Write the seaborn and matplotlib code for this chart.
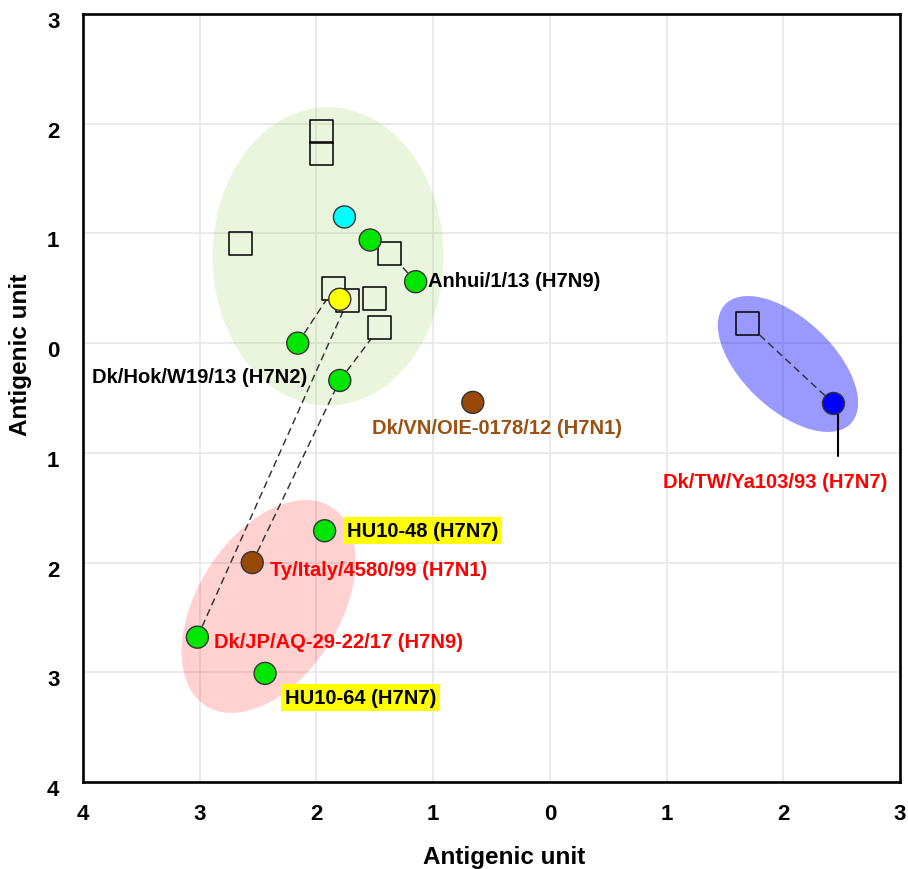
import numpy as np
import pandas as pd
import matplotlib
matplotlib.use("Agg")
import matplotlib.pyplot as plt
import seaborn as sns
from matplotlib.patches import Ellipse
from matplotlib.transforms import ScaledTranslation

# ---- antigens (filled circles) ----
antigen_names = ["ag01", "ag02", "Anhui/1/13", "ag04", "ag05", "Dk/Hok/W19/13",
                 "Dk/VN/OIE-0178/12", "HU10-48", "Ty/Italy/4580/99",
                 "Dk/JP/AQ-29-22/17", "HU10-64", "Dk/TW/Ya103/93"]
antigen_x = [-1.76, -1.54, -1.15, -1.80, -2.16, -1.80, -0.66, -1.93, -2.55, -3.02, -2.44, 2.43]
antigen_y = [1.15, 0.94, 0.56, 0.40, 0.00, -0.34, -0.54, -1.71, -2.00, -2.68, -3.01, -0.55]
antigen_colors = ["#00ffff", "#00e600", "#00e600", "#ffff00", "#00e600", "#00e600",
                  "#984807", "#00e600", "#984807", "#00e600", "#00e600", "#0000ff"]

# ---- antisera (open squares) ----
serum_x = [-1.96, -1.96, -2.65, -1.37, -1.85, -1.73, -1.50, -1.46, 1.69]
serum_y = [1.93, 1.73, 0.91, 0.82, 0.50, 0.39, 0.41, 0.14, 0.18]

# dashed connections: (antigen index, serum index) and (antigen index, antigen index)
antigen_serum_links = [(2, 3), (4, 4), (5, 7), (9, 5), (11, 8)]
antigen_antigen_links = [(8, 5)]

# ---- cluster ellipses ----
ell_cx = [-1.90, -2.41, 2.04]
ell_cy = [0.79, -2.40, -0.19]
ell_w = [1.98, 2.11, 1.53]
ell_h = [2.72, 1.24, 0.80]
ell_angle = [0, 61, -46.5]
ell_color = ["#92d050", "#ff0000", "#0000ff"]
ell_alpha = [0.2, 0.18, 0.4]

# ---- strain labels ----
label_text = ["Anhui/1/13 (H7N9)", "Dk/Hok/W19/13 (H7N2)", "Dk/VN/OIE-0178/12 (H7N1)",
              "Dk/TW/Ya103/93 (H7N7)", "HU10-48 (H7N7)", "Ty/Italy/4580/99 (H7N1)",
              "Dk/JP/AQ-29-22/17 (H7N9)", "HU10-64 (H7N7)"]
label_x = [-1.04, -2.08, -0.45, 1.93, -1.74, -2.40, -2.875, -2.27]
label_y = [0.57, -0.30, -0.77, -1.26, -1.71, -2.065, -2.72, -3.23]
label_ha = ["left", "right", "center", "center", "left", "left", "left", "left"]
label_color = ["black", "black", "#9c5012", "#ff0000", "black", "#ff0000", "#ff0000", "black"]
label_highlight = [False, False, False, False, True, False, False, True]

# ---- axes ----
x_ticks = [-4, -3, -2, -1, 0, 1, 2, 3]
x_tick_labels = ["4", "3", "2", "1", "0", "1", "2", "3"]
y_ticks = [3, 2, 1, 0, -1, -2, -3, -4]
y_tick_labels = ["3", "2", "1", "0", "1", "2", "3", "4"]

sns.set_theme(style="white")
plt.rcParams["font.family"] = ["Liberation Sans", "DejaVu Sans"]
plt.rcParams["text.color"] = "black"
plt.rcParams["axes.labelcolor"] = "black"
plt.rcParams["xtick.color"] = "black"
plt.rcParams["ytick.color"] = "black"

DPI = 100
fig = plt.figure(figsize=(9.08, 8.70), dpi=DPI)
ax = fig.add_axes([83 / 908, 1 - 783 / 870, 817 / 908, 768 / 870])
ax.set_xlim(-4, 3)
ax.set_ylim(-4, 3)

# cluster ellipses
for cx, cy, w, h, a, c, al in zip(ell_cx, ell_cy, ell_w, ell_h, ell_angle, ell_color, ell_alpha):
    ax.add_patch(Ellipse((cx, cy), w, h, angle=a, facecolor=c, alpha=al,
                         edgecolor="none", zorder=1))

CIRCLE_S = 251
SQUARE_S = 274
square_half_px = np.sqrt(SQUARE_S) / 2 * DPI / 72


def edge_of_square(p_from, p_sq):
    """Point where the segment from p_from to the square centre meets the square edge."""
    P = ax.transData.transform(p_from)
    Q = ax.transData.transform(p_sq)
    d = P - Q
    tx = square_half_px / abs(d[0]) if d[0] != 0 else np.inf
    ty = square_half_px / abs(d[1]) if d[1] != 0 else np.inf
    E = Q + min(tx, ty) * d
    return ax.transData.inverted().transform(E)


line_kw = dict(color="#333333", linewidth=1.05, dashes=(5, 3), zorder=2)
for ai, si in antigen_serum_links:
    a = (antigen_x[ai], antigen_y[ai])
    e = edge_of_square(a, (serum_x[si], serum_y[si]))
    ax.plot([a[0], e[0]], [a[1], e[1]], **line_kw)
for i, j in antigen_antigen_links:
    ax.plot([antigen_x[i], antigen_x[j]], [antigen_y[i], antigen_y[j]], **line_kw)

# leader line below the Dk/TW/Ya103/93 point
ax.plot([antigen_x[11] + 0.04, antigen_x[11] + 0.04], [antigen_y[11], -1.03],
        color="black", linewidth=1.5, zorder=2)

sera = pd.DataFrame({"x": serum_x, "y": serum_y})
sns.scatterplot(data=sera, x="x", y="y", marker="s", s=SQUARE_S, facecolors="none",
                edgecolor="black", linewidth=1.1, ax=ax, zorder=3, legend=False)

antigens = pd.DataFrame({"x": antigen_x, "y": antigen_y, "name": antigen_names})
sns.scatterplot(data=antigens, x="x", y="y", hue="name",
                palette=dict(zip(antigen_names, antigen_colors)), s=CIRCLE_S,
                edgecolor="#333333", linewidth=1.0, ax=ax, zorder=4, legend=False)

for t, x, y, ha, c, hl in zip(label_text, label_x, label_y, label_ha, label_color, label_highlight):
    kw = {}
    if hl:
        kw["bbox"] = dict(boxstyle="square,pad=0.2", facecolor="#ffff00", edgecolor="none")
    ax.text(x, y, t, ha=ha, va="center", fontsize=14.5, fontweight="bold", color=c,
            zorder=5, **kw)

# axis styling
ax.set_xlim(-4, 3)
ax.set_ylim(-4, 3)
ax.set_xticks(x_ticks)
ax.set_xticklabels(x_tick_labels, fontsize=16, fontweight="bold", color="black")
ax.set_yticks(y_ticks)
ax.set_yticklabels(y_tick_labels, fontsize=16, fontweight="bold", color="black")
ax.tick_params(axis="both", length=0)
ax.tick_params(axis="x", pad=15)
ax.tick_params(axis="y", pad=17)
ax.grid(True, color="#e6e6e6", linewidth=1.2)
ax.set_axisbelow(True)
for sp in ax.spines.values():
    sp.set_color("black")
    sp.set_linewidth(1.9)

ax.set_xlabel("Antigenic unit", fontsize=17.5, fontweight="bold", color="black")
ax.set_ylabel("Antigenic unit", fontsize=17.5, fontweight="bold", color="black")
ax.xaxis.set_label_coords(0.515, -0.082)
ax.yaxis.set_label_coords(-0.062, 0.557)

# y tick labels sit slightly below their gridlines
shift = ScaledTranslation(0, -5 / DPI, fig.dpi_scale_trans)
for lab in ax.get_yticklabels():
    lab.set_transform(lab.get_transform() + shift)

fig.savefig("out.png", dpi=DPI)
